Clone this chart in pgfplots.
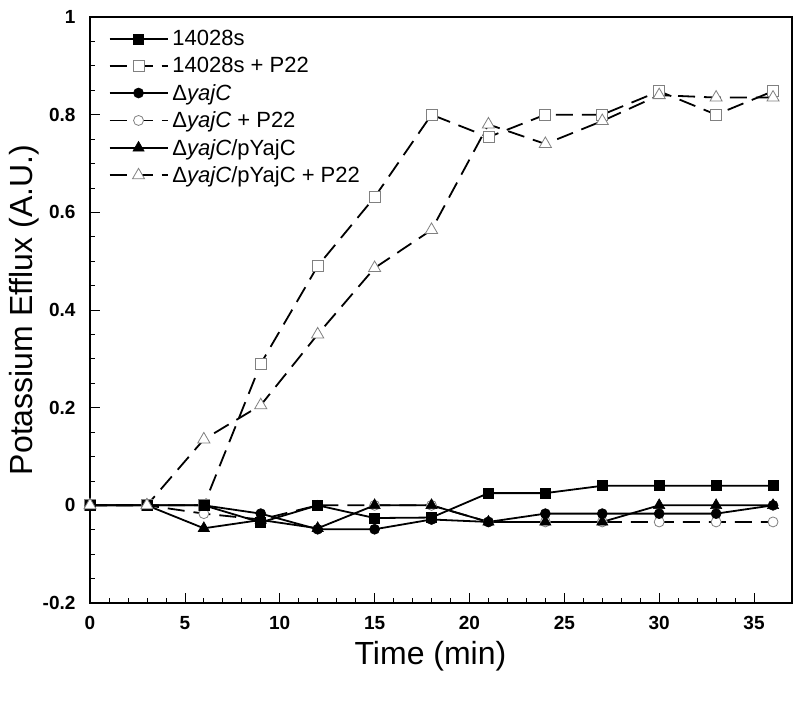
\documentclass[border=0pt]{standalone}
\usepackage{fontspec}
\setmainfont{Liberation Sans}
\usepackage{pgfplots}
\usepackage{pgfplotstable}
\pgfplotsset{compat=1.18}

\newcommand\legfont{\fontsize{22}{26}\selectfont}
\newcommand\tickfont{\bfseries\fontsize{19}{22}\selectfont}
\newcommand\labfont{\fontsize{32}{36}\selectfont}

% time (min) and potassium efflux for each strain
\pgfplotstableread{
t    sq      sqp    ci      cip     tr      trp
0    0       0      0       0       0       0
3    0       0      0       0       0       0
6    0       0      0      -0.017  -0.047   0.135
9   -0.035   0.29  -0.017  -0.029  -0.03    0.205
12   0       0.49  -0.049   0      -0.047   0.35
15  -0.026   0.631 -0.049   0       0       0.486
18  -0.025   0.80  -0.029   0       0       0.564
21   0.025   0.754 -0.034  -0.034  -0.034   0.78
24   0.025   0.80  -0.017  -0.034  -0.034   0.74
27   0.04    0.80  -0.017  -0.034  -0.034   0.787
30   0.04    0.848 -0.017  -0.034   0       0.84
33   0.04    0.80  -0.017  -0.034   0       0.835
36   0.04    0.848  0      -0.034   0       0.835
}\efflux

\pgfplotsset{
  filled/.style={black, line width=1.8pt,
    mark options={solid, fill=black, draw=black, line width=0.6pt}},
  open/.style={black, line width=1.8pt, dash pattern=on 17pt off 9pt,
    mark options={solid, fill=white, draw=gray, line width=0.8pt}},
}

\begin{document}
\begin{tikzpicture}
\useasboundingbox (0pt,0pt) rectangle (800pt,701pt);
\begin{axis}[
    at={(90pt,98pt)}, anchor=south west,
    scale only axis, width=702pt, height=586pt,
    xmin=0, xmax=37, ymin=-0.2, ymax=1,
    xtick={0,5,...,35}, xticklabels={0,5,10,15,20,25,30,35},
    ytick={-0.2,0,0.2,0.4,0.6,0.8,1},
    yticklabels={-0.2,0,0.2,0.4,0.6,0.8,1},
    minor x tick num=4, minor y tick num=3,
    tick align=inside, tick pos=left,
    major tick length=10pt, minor tick length=5pt,
    every tick/.style={black, line width=0.7pt},
    axis line style={line width=1.2pt},
    ticklabel style={font=\tickfont},
    xticklabel style={yshift=-10pt},
    yticklabel style={xshift=-11pt},
    xlabel={Time (min)},
    ylabel={Potassium Efflux (A.U.)},
    label style={font=\labfont},
    xlabel style={at={(axis description cs:0.485,-0.09)}, anchor=center},
    ylabel style={at={(axis description cs:-0.094,0.5)}, anchor=center},
    legend cell align=left,
    legend image code/.code={\draw[mark repeat=2,mark phase=2,#1]
        plot coordinates {(0pt,0pt)(29pt,0pt)(58pt,0pt)};},
    legend style={at={(axis description cs:0.022,0.984)}, anchor=north west,
        draw=none, fill=none, font=\legfont, row sep=6pt,
        nodes={inner xsep=4pt}},
]
% drawing order differs from legend order so that overlaps look right
\addplot[open, mark=square*, mark size=5.5pt, forget plot] table[x=t,y=sqp] {\efflux};
\addplot[open, mark=*, mark size=5pt, forget plot] table[x=t,y=cip] {\efflux};
\addplot[filled, mark=square*, mark size=5pt, forget plot] table[x=t,y=sq] {\efflux};
\addplot[filled, mark=*, mark size=5pt, forget plot] table[x=t,y=ci] {\efflux};
\addplot[filled, mark=triangle*, mark size=6.5pt, forget plot] table[x=t,y=tr] {\efflux};
\addplot[open, mark=triangle*, mark size=7pt, forget plot] table[x=t,y=trp] {\efflux};

\addlegendimage{filled, mark=square*, mark size=5pt}
\addlegendentry{14028s}
\addlegendimage{open, mark=square*, mark size=5.5pt}
\addlegendentry{14028s + P22}
\addlegendimage{filled, mark=*, mark size=5pt}
\addlegendentry{Δ\textit{yajC}}
\addlegendimage{open, mark=*, mark size=5pt}
\addlegendentry{Δ\textit{yajC} + P22}
\addlegendimage{filled, mark=triangle*, mark size=6.5pt}
\addlegendentry{Δ\textit{yajC}/pYajC}
\addlegendimage{open, mark=triangle*, mark size=7pt}
\addlegendentry{Δ\textit{yajC}/pYajC + P22}
\end{axis}
\end{tikzpicture}
\end{document}
